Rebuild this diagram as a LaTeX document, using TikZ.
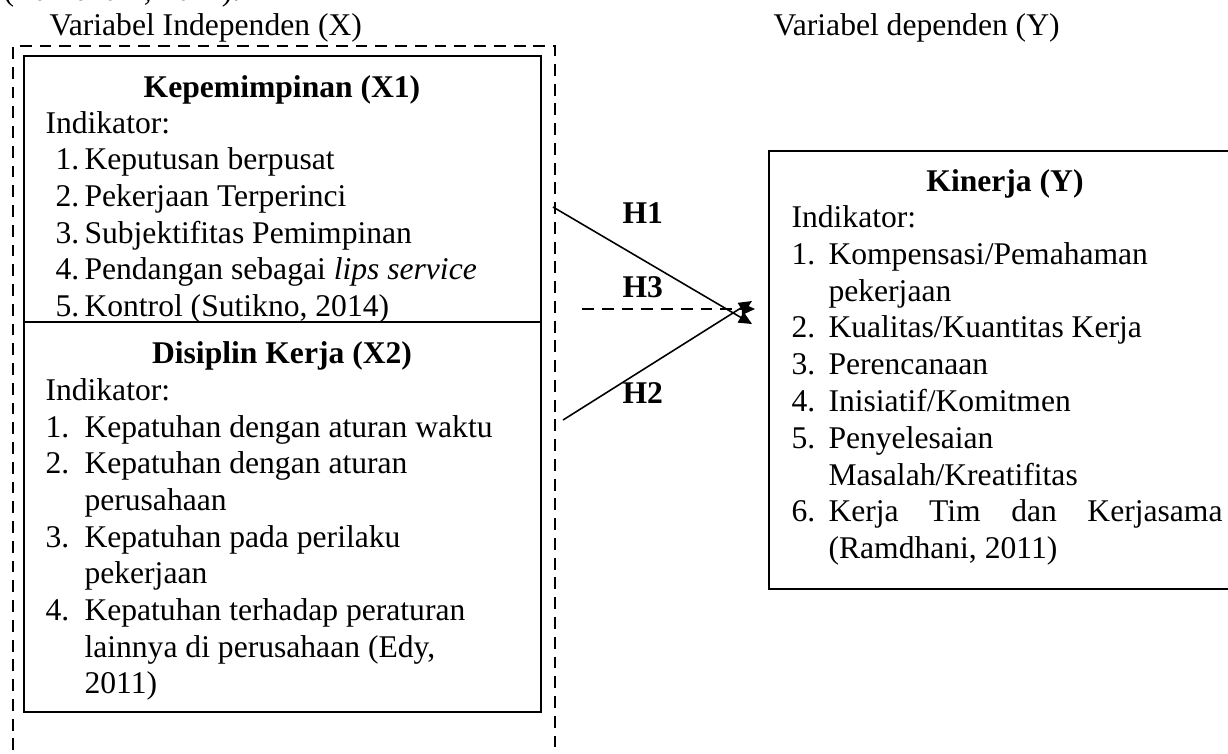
\documentclass[tikz,border=0pt]{standalone}
\usepackage{fontspec}
\setmainfont{Liberation Serif}
\usetikzlibrary{arrows.meta}
\begin{document}
\begin{tikzpicture}[x=0.3797pt,y=-0.3797pt,
  txt/.style={anchor=base west,inner sep=0pt,font=\fontsize{12}{14}\selectfont},
  ttl/.style={anchor=base,inner sep=0pt,font=\fontsize{12}{14}\selectfont\bfseries},
  hyp/.style={anchor=base west,inner sep=0pt,font=\fontsize{12}{14}\selectfont\bfseries},
  boxline/.style={draw=black,line width=0.75pt},
  grp/.style={draw=black,line width=0.7pt,dash pattern=on 4.5pt off 3pt},
  conn/.style={draw=black,line width=0.6pt,-{Triangle[length=5pt,width=4.5pt]}},
  dconn/.style={conn,dash pattern=on 4.5pt off 3pt},
]
\useasboundingbox (0,0) rectangle (1228,753);

% cut-off line at the top
\node[txt] (cut) at (3,0.5) {(Ramdhani, 2011).};

% headers
\node[txt] (hx) at (49,35) {Variabel Independen (X)};
\node[txt] (hy) at (773,35) {Variabel dependen (Y)};

% group box X
\draw[grp] (13,770) -- (13,46) -- (555,46) -- (555,770);

% X1 box
\draw[boxline] (24,56) rectangle (541,322);
\node[ttl] (x1t) at (282,97) {Kepemimpinan (X1)};
\node[txt] (x1i) at (45,133) {Indikator:};
\node[txt] (x1n1) at (55,169) {1.};  \node[txt] (x1a) at (84,169) {Keputusan berpusat};
\node[txt] (x1n2) at (55,206) {2.};  \node[txt] (x1b) at (84,206) {Pekerjaan Terperinci};
\node[txt] (x1n3) at (55,243) {3.};  \node[txt] (x1c) at (84,243) {Subjektifitas Pemimpinan};
\node[txt] (x1n4) at (55,279) {4.};  \node[txt] (x1d) at (84,279) {Pendangan sebagai \textit{lips service}};
\node[txt] (x1n5) at (55,316) {5.};  \node[txt] (x1e) at (84,316) {Kontrol (Sutikno, 2014)};

% X2 box
\draw[boxline] (24,322) rectangle (541,712);
\node[ttl] (x2t) at (282,363) {Disiplin Kerja (X2)};
\node[txt] (x2i) at (45,400) {Indikator:};
\node[txt] (x2n1) at (45,437) {1.};  \node[txt] (x2a) at (84,437) {Kepatuhan dengan aturan waktu};
\node[txt] (x2n2) at (45,473) {2.};  \node[txt] (x2b) at (84,473) {Kepatuhan dengan aturan};
\node[txt] (x2b2) at (84,510) {perusahaan};
\node[txt] (x2n3) at (45,547) {3.};  \node[txt] (x2c) at (84,547) {Kepatuhan pada perilaku};
\node[txt] (x2c2) at (84,583) {pekerjaan};
\node[txt] (x2n4) at (45,620) {4.};  \node[txt] (x2d) at (84,620) {Kepatuhan terhadap peraturan};
\node[txt] (x2d2) at (84,657) {lainnya di perusahaan (Edy,};
\node[txt] (x2d3) at (84,693) {2011)};

% Y box
\draw[boxline] (1240,151) -- (769,151) -- (769,589) -- (1240,589);
\node[ttl] (yt) at (1005,191) {Kinerja (Y)};
\node[txt] (yi) at (791,227) {Indikator:};
\node[txt] (yn1) at (791,264) {1.};  \node[txt] (ya) at (828,264) {Kompensasi/Pemahaman};
\node[txt] (ya2) at (828,301) {pekerjaan};
\node[txt] (yn2) at (791,337) {2.};  \node[txt] (yb) at (828,337) {Kualitas/Kuantitas Kerja};
\node[txt] (yn3) at (791,374) {3.};  \node[txt] (yc) at (828,374) {Perencanaan};
\node[txt] (yn4) at (791,411) {4.};  \node[txt] (yd) at (828,411) {Inisiatif/Komitmen};
\node[txt] (yn5) at (791,448) {5.};  \node[txt] (ye) at (828,448) {Penyelesaian};
\node[txt] (ye2) at (828,485) {Masalah/Kreatifitas};
\node[txt] (yn6) at (791,521) {6.};  \node[txt] (yf) at (828,521) {\makebox[149.6pt][s]{Kerja Tim dan Kerjasama}};
\node[txt] (yf2) at (828,558) {(Ramdhani, 2011)};

% hypotheses
\coordinate (h1s) at (553,207);
\coordinate (h1e) at (752,324);
\coordinate (h2s) at (563,420);
\coordinate (h2e) at (752,301);
\coordinate (h3s) at (582,309);
\coordinate (h3e) at (755,309);
\draw[conn] (h1s) -- (h1e);
\draw[conn] (h2s) -- (h2e);
\draw[dconn] (h3s) -- (h3e);
\node[hyp] (lh1) at (622,223) {H1};
\node[hyp] (lh3) at (622,297) {H3};
\node[hyp] (lh2) at (622,403) {H2};
\end{tikzpicture}
\end{document}
